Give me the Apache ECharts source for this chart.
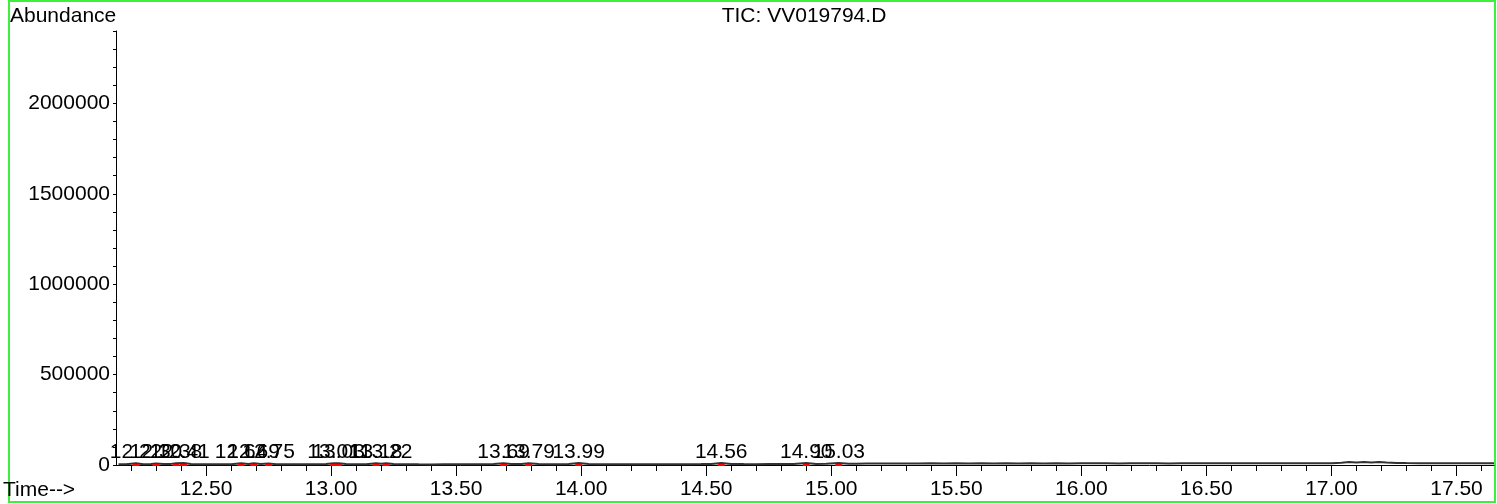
<!DOCTYPE html>
<html><head><meta charset="utf-8">
<script src="https://cdn.jsdelivr.net/npm/echarts@6/dist/echarts.min.js"></script>
<style>html,body{margin:0;padding:0;background:#fff}#c{width:1497px;height:504px}</style>
</head><body><div id="c"></div>
<script>
// retention time (min)
const rt = [
  12.15, 12.18, 12.22, 12.25, 12.28, 12.30, 12.33, 12.36, 12.38, 12.41,
  12.44, 12.48, 12.52, 12.56, 12.60, 12.64, 12.67, 12.69, 12.72, 12.75,
  12.78, 12.82, 12.86, 12.90, 12.94, 12.98, 13.01, 13.03, 13.06, 13.10,
  13.14, 13.18, 13.20, 13.22, 13.25, 13.30, 13.35, 13.40, 13.45, 13.50,
  13.55, 13.60, 13.65, 13.69, 13.72, 13.76, 13.79, 13.83, 13.87, 13.91,
  13.95, 13.99, 14.03, 14.08, 14.13, 14.18, 14.23, 14.28, 14.33, 14.38,
  14.43, 14.48, 14.52, 14.56, 14.60, 14.65, 14.70, 14.75, 14.80, 14.85,
  14.90, 14.94, 14.98, 15.03, 15.07, 15.10, 15.14, 15.18, 15.22, 15.26,
  15.30, 15.35, 15.40, 15.45, 15.50, 15.55, 15.60, 15.65, 15.70, 15.75,
  15.80, 15.85, 15.90, 15.95, 16.00, 16.05, 16.10, 16.15, 16.20, 16.25,
  16.30, 16.35, 16.40, 16.45, 16.50, 16.55, 16.60, 16.65, 16.70, 16.75,
  16.80, 16.85, 16.90, 16.95, 17.00, 17.04, 17.07, 17.10, 17.13, 17.16,
  17.19, 17.22, 17.26, 17.30, 17.35, 17.40, 17.45, 17.50, 17.55, 17.60, 17.65
];
// TIC abundance
const abundance = [
  3500, 4200, 9500, 4800, 5200, 8800, 5000, 6200, 9800, 10500,
  5200, 4300, 3900, 4100, 4600, 9200, 6000, 9600, 5400, 9000,
  4800, 4000, 3700, 3600, 3900, 5100, 10200, 9800, 5000, 4100,
  4500, 9400, 6800, 9900, 4900, 3800, 3500, 3400, 3600, 3700,
  3900, 4200, 5000, 9700, 5200, 5600, 9400, 5100, 4400, 4300,
  5200, 10800, 5600, 4400, 4100, 3900, 4000, 4300, 4200, 4500,
  4700, 5000, 5900, 11200, 5800, 4900, 4800, 5100, 5300, 5600,
  10400, 6200, 6400, 11000, 6900, 7600, 8400, 7800, 8700, 8200,
  8900, 8300, 9100, 8500, 9200, 8600, 9300, 8700, 9100, 8800,
  9400, 8900, 9200, 8700, 9500, 9000, 9300, 8800, 9600, 9100,
  9400, 8900, 9700, 9200, 9500, 9000, 9800, 9300, 9600, 9100,
  9700, 9200, 9900, 9400, 10200, 12800, 16500, 13600, 17200, 14100,
  16200, 13200, 11000, 10400, 10000, 10300, 9900, 10200, 9800, 10100, 9900
];
// integrated peaks
const peakTimes = [12.22, 12.30, 12.38, 12.41, 12.64, 12.69, 12.75, 13.01, 13.03, 13.18, 13.22, 13.69, 13.79, 13.99, 14.56, 14.90, 15.03];
const peakLabels = ['12.22', '12.30', '12.38', '12.41', '12.64', '12.69', '12.75', '13.01', '13.03', '13.18', '13.22', '13.69', '13.79', '13.99', '14.56', '14.90', '15.03'];
// axis ticks
const xMajorTicks = [12.5, 13.0, 13.5, 14.0, 14.5, 15.0, 15.5, 16.0, 16.5, 17.0, 17.5];
const xMinorTicks = [12.2, 12.3, 12.4, 12.6, 12.7, 12.8, 12.9, 13.1, 13.2, 13.3, 13.4,
  13.6, 13.7, 13.8, 13.9, 14.1, 14.2, 14.3, 14.4, 14.6, 14.7, 14.8, 14.9,
  15.1, 15.2, 15.3, 15.4, 15.6, 15.7, 15.8, 15.9, 16.1, 16.2, 16.3, 16.4,
  16.6, 16.7, 16.8, 16.9, 17.1, 17.2, 17.3, 17.4, 17.6];
const yLabelStep = 500000;

const FONT = "'Liberation Sans', Arial, sans-serif";
const X_MIN = 12.14, X_MAX = 17.65;
const chart = echarts.init(document.getElementById('c'), null, {renderer: 'canvas'});
const gridTop = 31, gridBottom = 39;
const gridH = 504 - gridTop - gridBottom;

chart.setOption({
  animation: false,
  backgroundColor: '#ffffff',
  grid: {left: 116, right: 3, top: gridTop, bottom: gridBottom, containLabel: false},
  xAxis: [{
    type: 'value', min: X_MIN, max: X_MAX, position: 'bottom',
    axisLine: {show: true, onZero: false, lineStyle: {color: '#000', width: 1}},
    axisTick: {show: true, customValues: xMajorTicks, length: 11, lineStyle: {color: '#000'}},
    axisLabel: {show: true, customValues: xMajorTicks, margin: 14, color: '#000', fontSize: 21, fontFamily: FONT,
      formatter: v => v.toFixed(2)},
    splitLine: {show: false}
  }, {
    type: 'value', min: X_MIN, max: X_MAX, position: 'top', offset: -gridH,
    axisLine: {show: false, onZero: false},
    axisTick: {show: true, inside: true, customValues: xMinorTicks, length: 6, lineStyle: {color: '#000'}},
    axisLabel: {show: false},
    splitLine: {show: false}
  }],
  yAxis: {
    type: 'value', min: 0, max: 2400000, interval: 100000,
    axisLine: {show: true, onZero: false, lineStyle: {color: '#000', width: 1}},
    axisTick: {show: true, length: 3, lineStyle: {color: '#000'}},
    axisLabel: {show: true, margin: 6, color: '#000', fontSize: 21, fontFamily: FONT,
      formatter: v => (v % yLabelStep === 0 && v <= 2000000) ? String(v) : ''},
    splitLine: {show: false}
  },
  graphic: [
    {type: 'rect', shape: {x: 9, y: 1, width: 1486, height: 501}, style: {fill: 'none', stroke: '#3cf03c', lineWidth: 2}, z: 0},
    {type: 'text', left: 10, top: 6, style: {text: 'Abundance', font: '21px ' + FONT, fill: '#000'}},
    {type: 'text', x: 804, y: 16, style: {text: 'TIC: VV019794.D', font: '21px ' + FONT, fill: '#000', textAlign: 'center', textVerticalAlign: 'middle'}},
    {type: 'text', x: 3, y: 490, style: {text: 'Time-->', font: '21px ' + FONT, fill: '#000', textVerticalAlign: 'middle'}}
  ],
  series: [{
    type: 'line', xAxisIndex: 0, yAxisIndex: 0,
    data: rt.map((t, i) => [t, abundance[i]]),
    showSymbol: false, symbol: 'none',
    lineStyle: {color: '#333', width: 2},
    z: 3
  }, {
    type: 'scatter', xAxisIndex: 0, yAxisIndex: 0, clip: false,
    data: peakTimes.map((t, i) => [t, 0, peakLabels[i]]),
    symbol: 'rect', symbolSize: [7, 2],
    itemStyle: {color: '#ff0000', opacity: 1},
    label: {show: true, position: 'top', distance: 1, color: '#000', opacity: 1, fontSize: 21, fontFamily: FONT,
      formatter: p => p.data[2]},
    emphasis: {disabled: true},
    z: 5
  }]
});
</script>
</body></html>
